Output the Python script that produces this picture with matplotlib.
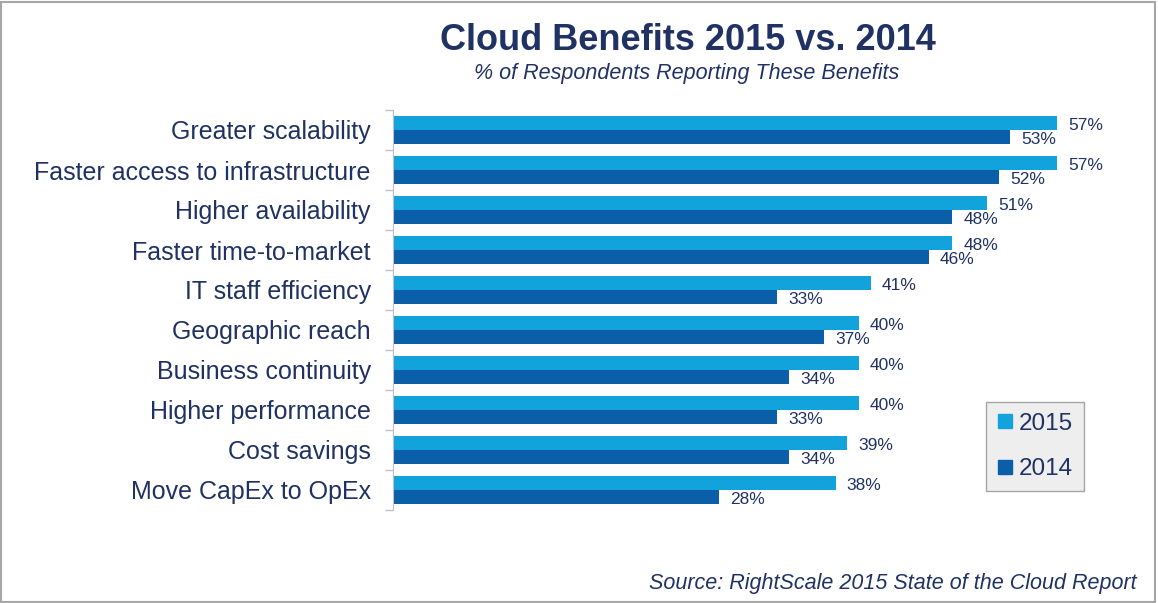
import matplotlib.pyplot as plt
import numpy as np
from matplotlib.lines import Line2D
from matplotlib.patches import Rectangle

plt.rcParams['font.family'] = ['Liberation Sans', 'DejaVu Sans']

categories = ['Greater scalability', 'Faster access to infrastructure', 'Higher availability',
              'Faster time-to-market', 'IT staff efficiency', 'Geographic reach',
              'Business continuity', 'Higher performance', 'Cost savings', 'Move CapEx to OpEx']
vals_2015 = [57, 57, 51, 48, 41, 40, 40, 40, 39, 38]
vals_2014 = [53, 52, 48, 46, 33, 37, 34, 33, 34, 28]

c15 = '#12a3dd'
c14 = '#0b5ea8'
txt = '#1f3263'

fig = plt.figure(figsize=(11.58, 6.03), dpi=100)
W, H = 1158, 603
# axes placed in pixel terms
ax = fig.add_axes([393 / W, 1 - 510 / H, 699 / W, 400 / H])

n = len(categories)
y = np.arange(n)
h = 0.35
ax.barh(y - h / 2, vals_2015, height=h, color=c15, label='2015')
ax.barh(y + h / 2, vals_2014, height=h, color=c14, label='2014')

for i in range(n):
    ax.annotate(f'{vals_2015[i]}%', (vals_2015[i], y[i] - h / 2), xytext=(8, -1.5),
                textcoords='offset points', va='center', ha='left', fontsize=12.5, color=txt)
    ax.annotate(f'{vals_2014[i]}%', (vals_2014[i], y[i] + h / 2), xytext=(8, -1.5),
                textcoords='offset points', va='center', ha='left', fontsize=12.5, color=txt)

ax.set_xlim(0, 60)
ax.set_ylim(n - 0.5, -0.5)
ax.set_yticks(y)
ax.set_yticklabels(categories, fontsize=18, color=txt)
ax.set_yticks(np.arange(n + 1) - 0.5, minor=True)
ax.tick_params(axis='y', which='major', length=0, pad=16)
ax.tick_params(axis='y', which='minor', length=6, color='#bfbfbf', width=1)
ax.set_xticks([])
for s in ['top', 'right', 'bottom']:
    ax.spines[s].set_visible(False)
ax.spines['left'].set_color('#bfbfbf')

handles = [Line2D([], [], marker='s', ls='', color=c15, markersize=9.5),
           Line2D([], [], marker='s', ls='', color=c14, markersize=9.5)]
leg = fig.legend(handles, ['2015', '2014'], loc='upper left', bbox_to_anchor=(986 / W, 1 - 402 / H),
                 bbox_transform=fig.transFigure, fontsize=17.5, frameon=True, fancybox=False,
                 handlelength=0.7, handletextpad=0.2, labelspacing=0.95, borderpad=0.45,
                 borderaxespad=0)
leg.get_frame().set_facecolor('#eeeeee')
leg.get_frame().set_edgecolor('#a6a6a6')
leg.get_frame().set_alpha(1)
for t in leg.get_texts():
    t.set_color(txt)

fig.text(688 / W, 1 - 41 / H, 'Cloud Benefits 2015 vs. 2014', ha='center', va='center',
         fontsize=26, fontweight='bold', color=txt)
fig.text(687 / W, 1 - 73 / H, '% of Respondents Reporting These Benefits', ha='center', va='center',
         fontsize=15.5, style='italic', color=txt)
fig.text(1137 / W, 1 - 584 / H, 'Source: RightScale 2015 State of the Cloud Report', ha='right',
         va='center', fontsize=15.5, style='italic', color=txt)

# frame round the slide
fig.patches.append(Rectangle((0.5 / W, 1 / H), 1154 / W, 600 / H, transform=fig.transFigure,
                             fill=False, edgecolor='#a6a6a6', linewidth=1.5))

fig.savefig('out.png', dpi=100)
